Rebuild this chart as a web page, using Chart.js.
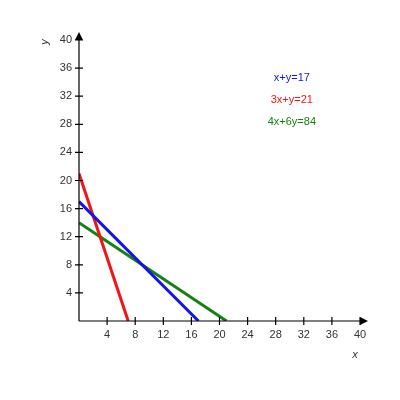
<!DOCTYPE html>
<html>
<head>
<meta charset="utf-8">
<script src="https://cdn.jsdelivr.net/npm/chart.js@4/dist/chart.umd.min.js"></script>
<style>
  html, body { margin: 0; padding: 0; background: #fff; }
  #wrap { width: 400px; height: 400px; }
</style>
</head>
<body>
<div id="wrap"><canvas id="chart" width="400" height="400"></canvas></div>
<script>
// lines ax+by=c, drawn between their two intercepts
const equations = ['x+y=17', '3x+y=21', '4x+6y=84'];
const xIntercepts = [17, 7, 21];
const yIntercepts = [17, 21, 14];
const lineColors = ['#1414e6', '#f01414', '#148214'];
// where the equation labels sit (in data units)
const labelX = [30.3, 30.3, 30.3];
const labelY = [34.6, 31.5, 28.4];
const tickValues = [4, 8, 12, 16, 20, 24, 28, 32, 36, 40];

const axisDecor = {
  id: 'axisDecor',
  afterDraw(c) {
    const ctx = c.ctx;
    const xs = c.scales.x, ys = c.scales.y;
    const x0 = xs.getPixelForValue(0), y0 = ys.getPixelForValue(0);
    const xEnd = xs.getPixelForValue(40), yEnd = ys.getPixelForValue(40);
    ctx.save();
    ctx.strokeStyle = '#000';
    ctx.fillStyle = '#000';
    ctx.lineWidth = 1.2;
    // axes
    ctx.beginPath();
    ctx.moveTo(x0, y0); ctx.lineTo(xEnd + 2, y0);
    ctx.moveTo(x0, y0); ctx.lineTo(x0, yEnd - 2);
    // crossing tick marks
    tickValues.forEach(v => {
      const px = xs.getPixelForValue(v);
      ctx.moveTo(px, y0 - 4); ctx.lineTo(px, y0 + 4);
      const py = ys.getPixelForValue(v);
      ctx.moveTo(x0 - 4, py); ctx.lineTo(x0 + 4, py);
    });
    ctx.stroke();
    // arrow heads
    ctx.beginPath();
    ctx.moveTo(xEnd + 8, y0); ctx.lineTo(xEnd, y0 - 4); ctx.lineTo(xEnd, y0 + 4);
    ctx.closePath(); ctx.fill();
    ctx.beginPath();
    ctx.moveTo(x0, yEnd - 8); ctx.lineTo(x0 - 4, yEnd); ctx.lineTo(x0 + 4, yEnd);
    ctx.closePath(); ctx.fill();
    // axis titles
    ctx.fillStyle = '#333';
    ctx.font = 'italic 11px "Liberation Sans", Arial, sans-serif';
    ctx.textAlign = 'center';
    ctx.textBaseline = 'middle';
    ctx.fillText('x', xEnd - 5, y0 + 34);
    ctx.save();
    ctx.translate(x0 - 34, yEnd + 2);
    ctx.rotate(-Math.PI / 2);
    ctx.fillText('y', 0, 0);
    ctx.restore();
    // equation labels
    ctx.font = '11px "Liberation Sans", Arial, sans-serif';
    equations.forEach((t, i) => {
      ctx.fillStyle = lineColors[i];
      ctx.fillText(t, xs.getPixelForValue(labelX[i]), ys.getPixelForValue(labelY[i]));
    });
    ctx.restore();
  }
};

new Chart(document.getElementById('chart'), {
  type: 'line',
  data: {
    datasets: equations.map((eq, i) => ({
      label: eq,
      data: [{ x: 0, y: yIntercepts[i] }, { x: xIntercepts[i], y: 0 }],
      borderColor: lineColors[i],
      borderWidth: 3,
      pointRadius: 0,
      fill: false
    }))
  },
  options: {
    responsive: false,
    animation: false,
    layout: { padding: { left: 20, top: 40, right: 40, bottom: 59 } },
    plugins: { legend: { display: false }, tooltip: { enabled: false } },
    scales: {
      x: {
        type: 'linear', min: 0, max: 40,
        border: { display: false },
        grid: { display: false, drawTicks: false },
        ticks: {
          stepSize: 4, padding: 7,
          color: '#333',
          font: { family: '"Liberation Sans", Arial, sans-serif', size: 11 },
          callback: v => (v === 0 ? '' : v)
        },
        afterFit: s => { s.height = 20; }
      },
      y: {
        type: 'linear', min: 0, max: 40,
        border: { display: false },
        grid: { display: false, drawTicks: false },
        ticks: {
          stepSize: 4, padding: 7,
          color: '#333',
          font: { family: '"Liberation Sans", Arial, sans-serif', size: 11 },
          callback: v => (v === 0 ? '' : v)
        },
        afterFit: s => { s.width = 59; }
      }
    }
  },
  plugins: [axisDecor]
});
</script>
</body>
</html>
